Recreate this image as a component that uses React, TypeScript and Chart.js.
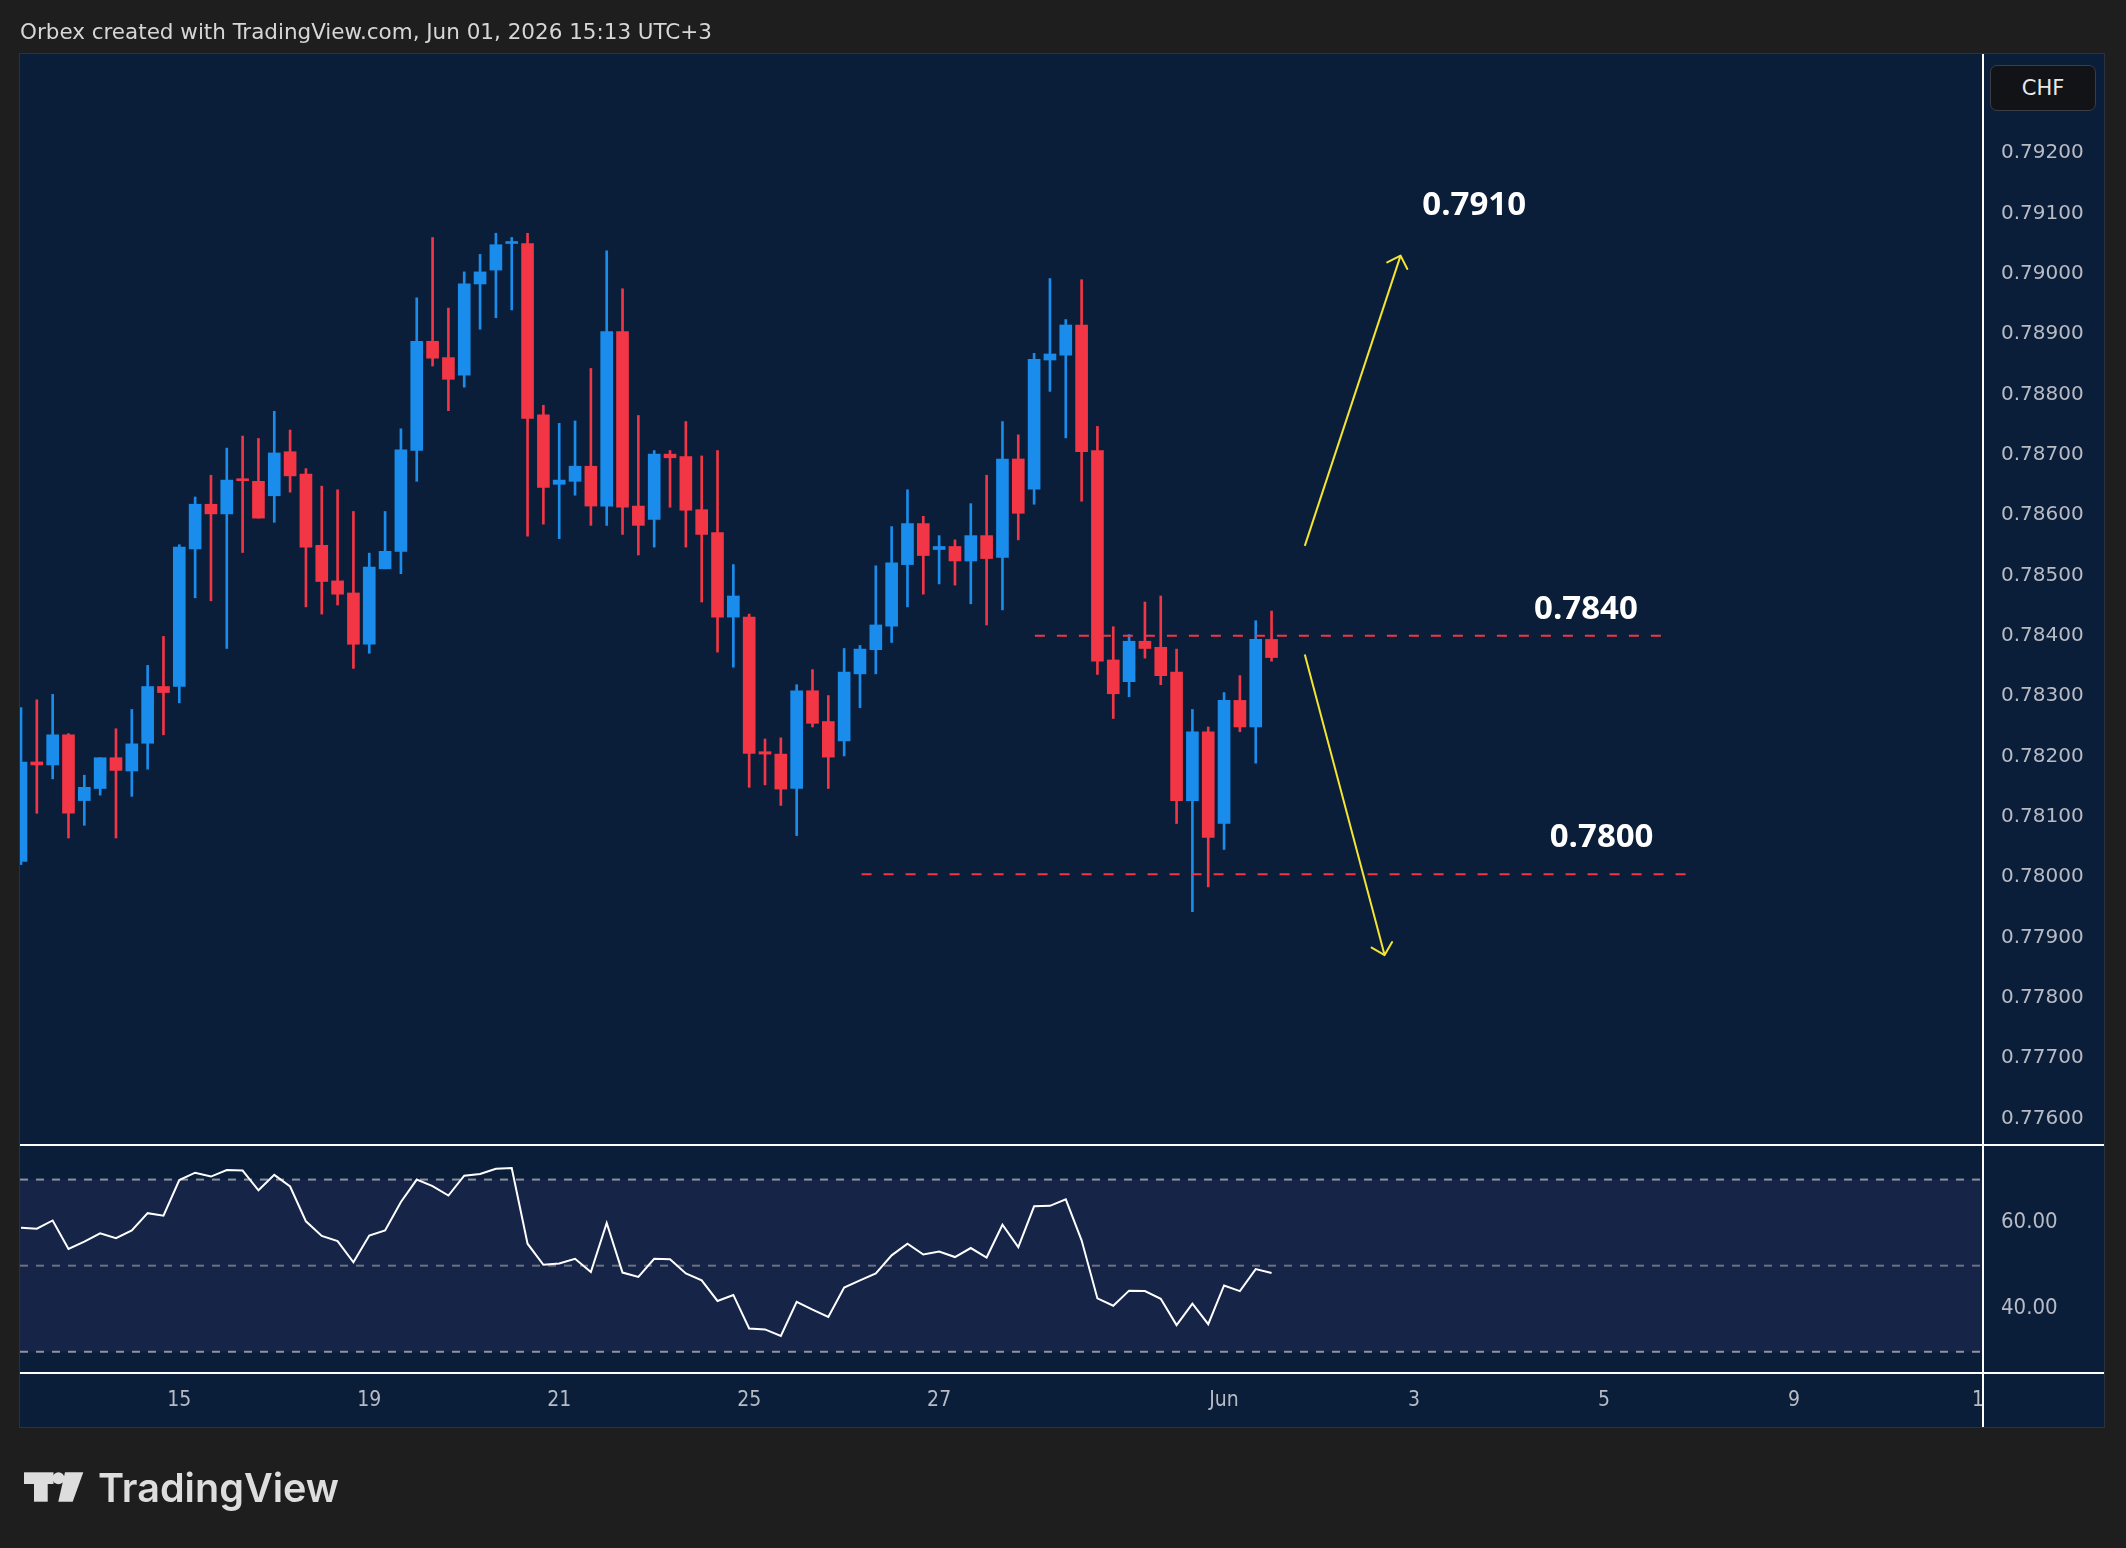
import React, { useEffect, useRef } from "react";
import { Chart, registerables } from "chart.js";

Chart.register(...registerables);

// ---------------- data ----------------
const opens = [
  0.78026, 0.78191, 0.78186, 0.78236, 0.78127, 0.78147, 0.78198, 0.78176, 0.78222, 0.78316,
  0.78316, 0.78544, 0.78618, 0.78602, 0.7866, 0.78656, 0.78632, 0.78705, 0.78668, 0.7855,
  0.78491, 0.78471, 0.78386, 0.78511, 0.7854, 0.78707, 0.78888, 0.78861, 0.78832, 0.78983,
  0.79006, 0.7905, 0.7905, 0.78766, 0.78651, 0.78656, 0.78681, 0.78615, 0.78904, 0.78615,
  0.78593, 0.78701, 0.78697, 0.78609, 0.78571, 0.78431, 0.78431, 0.78208, 0.78204, 0.78147,
  0.78309, 0.78258, 0.78226, 0.78337, 0.78377, 0.78416, 0.78518, 0.78586, 0.78543, 0.78548,
  0.78524, 0.78566, 0.7853, 0.78693, 0.78643, 0.78857, 0.78865, 0.78915, 0.78707, 0.7836,
  0.78324, 0.78391, 0.78381, 0.7834, 0.78127, 0.78241, 0.78089, 0.78293, 0.78249, 0.78394,
];
const highs = [
  0.78281, 0.78294, 0.78303, 0.78238, 0.78169, 0.78198, 0.78246, 0.78278, 0.78351, 0.78399,
  0.78551, 0.7863, 0.78666, 0.78711, 0.78731, 0.78727, 0.78772, 0.78741, 0.78677, 0.78648,
  0.78642, 0.78606, 0.78537, 0.78606, 0.78743, 0.7896, 0.7906, 0.78943, 0.79003, 0.79032,
  0.79067, 0.7906, 0.79067, 0.78782, 0.78752, 0.78756, 0.78843, 0.79038, 0.78975, 0.78765,
  0.78707, 0.78707, 0.78755, 0.78698, 0.78707, 0.78518, 0.78436, 0.78229, 0.78231, 0.78319,
  0.78344, 0.78301, 0.78379, 0.78384, 0.78516, 0.78581, 0.78642, 0.78598, 0.78566, 0.78559,
  0.78619, 0.78666, 0.78755, 0.78733, 0.78868, 0.78992, 0.78924, 0.7899, 0.78747, 0.78415,
  0.78402, 0.78456, 0.78466, 0.78378, 0.78278, 0.78249, 0.78306, 0.78334, 0.78425, 0.78441,
];
const lows = [
  0.78021, 0.78106, 0.78163, 0.78065, 0.78086, 0.78136, 0.78065, 0.78134, 0.78179, 0.78236,
  0.78289, 0.78463, 0.78458, 0.78379, 0.78538, 0.78595, 0.78588, 0.78638, 0.78448, 0.78436,
  0.78451, 0.78346, 0.78371, 0.78511, 0.78503, 0.78656, 0.78847, 0.78773, 0.78812, 0.78908,
  0.78927, 0.7894, 0.78565, 0.78585, 0.78561, 0.78633, 0.78583, 0.78583, 0.78568, 0.78534,
  0.78547, 0.78613, 0.78547, 0.78456, 0.78373, 0.78348, 0.78149, 0.78153, 0.78119, 0.78069,
  0.78249, 0.78147, 0.78201, 0.78281, 0.78337, 0.78389, 0.78448, 0.78469, 0.78486, 0.78484,
  0.78453, 0.78418, 0.78443, 0.78559, 0.78618, 0.78805, 0.78728, 0.78623, 0.78336, 0.78263,
  0.78299, 0.78363, 0.78319, 0.78089, 0.77943, 0.77984, 0.78046, 0.78241, 0.78189, 0.78358,
];
const closes = [
  0.78191, 0.78186, 0.78236, 0.78106, 0.78149, 0.78198, 0.78177, 0.78221, 0.78316, 0.78306,
  0.78547, 0.78618, 0.78602, 0.78658, 0.78657, 0.78595, 0.78703, 0.78665, 0.78547, 0.7849,
  0.78469, 0.78386, 0.78514, 0.7854, 0.78708, 0.78888, 0.7886, 0.78825, 0.78983, 0.79003,
  0.79048, 0.79052, 0.7876, 0.78646, 0.78658, 0.78681, 0.78615, 0.78904, 0.78613, 0.78583,
  0.78701, 0.78695, 0.78608, 0.78568, 0.78431, 0.78466, 0.78205, 0.78204, 0.78146, 0.78309,
  0.78255, 0.78199, 0.7834, 0.78378, 0.78418, 0.78521, 0.78586, 0.78533, 0.78548, 0.78524,
  0.78566, 0.78528, 0.78693, 0.78603, 0.78858, 0.78867, 0.78915, 0.78705, 0.78358, 0.78304,
  0.78391, 0.78379, 0.78334, 0.78127, 0.78241, 0.78066, 0.78293, 0.78249, 0.78394, 0.78364,
];
const rsiValues = [
  58.8, 58.6, 60.5, 53.9, 55.6, 57.5, 56.4, 58.2, 62.2, 61.6,
  69.9, 71.6, 70.7, 72.2, 72.1, 67.5, 71.1, 68.4, 60.3, 56.9,
  55.7, 50.8, 57.0, 58.2, 64.8, 70.0, 68.5, 66.3, 70.9, 71.3,
  72.5, 72.7, 55.1, 50.2, 50.5, 51.6, 48.5, 59.9, 48.4, 47.4,
  51.6, 51.5, 48.2, 46.6, 41.8, 43.2, 35.4, 35.2, 33.7, 41.6,
  39.8, 38.1, 44.9, 46.6, 48.2, 52.4, 55.1, 52.6, 53.3, 52.0,
  54.1, 51.9, 59.5, 54.3, 63.8, 63.9, 65.4, 55.9, 42.4, 40.7,
  44.2, 44.1, 42.3, 36.2, 41.2, 36.4, 45.4, 44.1, 49.2, 48.3,
];
const dayTickIndex = [10, 22, 34, 46, 58, 76, 88, 100, 112, 124];
const dayTickLabels = ["15", "19", "21", "25", "27", "Jun", "3", "5", "9", "11"];
const priceTicks = [
  0.776, 0.777, 0.778, 0.779, 0.78, 0.781, 0.782, 0.783, 0.784, 0.785, 0.786, 0.787, 0.788,
  0.789, 0.79, 0.791, 0.792,
];
const rsiTicks = [40, 60];
const rsiBandLevels = [70, 50, 30];

// annotations (data space: candle index, price)
const levelPrices = [0.784, 0.78005];
const levelFrom = [64.05, 53.1];
const levelTo = [103.8, 105.3];
const arrowStartX = [81.1, 81.1];
const arrowStartY = [0.78549, 0.78369];
const arrowEndX = [87.15, 86.14];
const arrowEndY = [0.7903, 0.77871];
const noteText = ["0.7910", "0.7840", "0.7800"];
const noteX = [91.8, 98.86, 99.85];
const noteY = [0.791133, 0.784438, 0.780651];

// ---------------- view ----------------
const X_MIN = -0.063;
const X_MAX = 123.88;
const PRICE_MIN = 0.77558;
const PRICE_MAX = 0.79364;
const RSI_MIN = 25.3;
const RSI_MAX = 77.8;

const NAVY = "#0a1e3a";
const BAND = "#162448";
const BLUE = "#1a8ceb";
const RED = "#f23645";
const YELLOW = "#f5e431";
const AXIS_TEXT = "#b8bbc4";
const COND = '"DejaVu Sans Condensed", "Liberation Sans Narrow", "DejaVu Sans", sans-serif';

const PANEL_L = 20;
const PANEL_T = 54;
const PANEL_W = 2084;
const PRICE_H = 1090;
const RSI_T = 1146;
const RSI_H = 281;
const AXIS_W = 122;

function PriceChart() {
  const ref = useRef<HTMLCanvasElement | null>(null);
  useEffect(() => {
    const canvas = ref.current;
    if (!canvas) return;
    const colors = closes.map((c, i) => (c >= opens[i] ? BLUE : RED));
    const annot = {
      id: "annot",
      afterDatasetsDraw(chart: any) {
        const xs = chart.scales.x;
        const ys = chart.scales.y;
        const ctx = chart.ctx as CanvasRenderingContext2D;
        ctx.save();
        ctx.strokeStyle = YELLOW;
        ctx.lineWidth = 2;
        ctx.lineCap = "round";
        ctx.lineJoin = "round";
        for (let k = 0; k < arrowStartX.length; k++) {
          const x0 = xs.getPixelForValue(arrowStartX[k]);
          const y0 = ys.getPixelForValue(arrowStartY[k]);
          const x1 = xs.getPixelForValue(arrowEndX[k]);
          const y1 = ys.getPixelForValue(arrowEndY[k]);
          const ang = Math.atan2(y1 - y0, x1 - x0);
          const len = 15;
          const sp = Math.PI / 4;
          ctx.beginPath();
          ctx.moveTo(x1 - len * Math.cos(ang - sp), y1 - len * Math.sin(ang - sp));
          ctx.lineTo(x1, y1);
          ctx.lineTo(x1 - len * Math.cos(ang + sp), y1 - len * Math.sin(ang + sp));
          ctx.stroke();
        }
        ctx.fillStyle = "#ffffff";
        ctx.font = '700 33px "Open Sans", "DejaVu Sans", sans-serif';
        ctx.textAlign = "center";
        ctx.textBaseline = "middle";
        for (let k = 0; k < noteText.length; k++) {
          ctx.fillText(noteText[k], xs.getPixelForValue(noteX[k]), ys.getPixelForValue(noteY[k]));
        }
        ctx.restore();
      },
    };
    const datasets: any[] = [
      ...levelPrices.map((p, k) => ({
        type: "line",
        data: [
          { x: levelFrom[k], y: p },
          { x: levelTo[k], y: p },
        ],
        borderColor: RED,
        borderWidth: 2,
        borderDash: [10, 12],
        pointRadius: 0,
        fill: false,
      })),
      ...arrowStartX.map((sx, k) => ({
        type: "line",
        data: [
          { x: sx, y: arrowStartY[k] },
          { x: arrowEndX[k], y: arrowEndY[k] },
        ],
        borderColor: YELLOW,
        borderWidth: 2,
        pointRadius: 0,
        fill: false,
      })),
      {
        type: "bar",
        data: opens.map((o, i) => ({ x: i, y: [o, closes[i]] })),
        backgroundColor: colors,
        borderWidth: 0,
        barThickness: 12,
        grouped: false,
        minBarLength: 2,
      },
      {
        type: "bar",
        data: lows.map((l, i) => ({ x: i, y: [l, highs[i]] })),
        backgroundColor: colors,
        borderWidth: 0,
        barThickness: 2,
        grouped: false,
      },
    ];
    const chart = new Chart(canvas, {
      type: "bar",
      data: { datasets },
      options: {
        animation: false,
        responsive: false,
        devicePixelRatio: 1,
        events: [],
        layout: { padding: 0 },
        plugins: { legend: { display: false }, tooltip: { enabled: false } },
        scales: {
          x: {
            type: "linear",
            min: X_MIN,
            max: X_MAX,
            display: false,
            offset: false,
          },
          y: {
            type: "linear",
            position: "right",
            min: PRICE_MIN,
            max: PRICE_MAX,
            grid: { display: false, drawTicks: false },
            border: { display: false },
            ticks: {
              color: AXIS_TEXT,
              font: { family: '"DejaVu Sans", sans-serif', size: 20 },
              padding: 19,
              crossAlign: "near",
              callback: (v: any) => Number(v).toFixed(5),
            },
            afterBuildTicks: (s: any) => {
              s.ticks = priceTicks.map((v) => ({ value: v }));
            },
            afterFit: (s: any) => {
              s.width = AXIS_W;
              s.paddingTop = 0;
              s.paddingBottom = 0;
            },
          },
        },
      } as any,
      plugins: [annot],
    } as any);
    return () => chart.destroy();
  }, []);
  return (
    <canvas
      ref={ref}
      width={PANEL_W}
      height={PRICE_H}
      style={{ position: "absolute", left: PANEL_L, top: PANEL_T, width: PANEL_W, height: PRICE_H }}
    />
  );
}

function RsiChart() {
  const ref = useRef<HTMLCanvasElement | null>(null);
  useEffect(() => {
    const canvas = ref.current;
    if (!canvas) return;
    const bandLine = (lvl: number, color: string, fill: any) => ({
      type: "line",
      data: [
        { x: X_MIN, y: lvl },
        { x: X_MAX, y: lvl },
      ],
      borderColor: color,
      borderWidth: 2,
      borderDash: [8, 8],
      pointRadius: 0,
      fill,
      backgroundColor: BAND,
    });
    const chart = new Chart(canvas, {
      type: "line",
      data: {
        datasets: [
          {
            data: rsiValues.map((v, i) => ({ x: i, y: v })),
            borderColor: "#ffffff",
            borderWidth: 2,
            pointRadius: 0,
            tension: 0,
            fill: false,
          },
          bandLine(rsiBandLevels[0], "#8f929b", false),
          bandLine(rsiBandLevels[1], "#6b7080", false),
          bandLine(rsiBandLevels[2], "#8f929b", 1),
        ] as any,
      },
      options: {
        animation: false,
        responsive: false,
        devicePixelRatio: 1,
        events: [],
        layout: { padding: 0 },
        plugins: { legend: { display: false }, tooltip: { enabled: false } },
        scales: {
          x: {
            type: "linear",
            position: "bottom",
            min: X_MIN,
            max: X_MAX,
            offset: false,
            grid: { display: false, drawTicks: false },
            border: { display: false },
            ticks: {
              autoSkip: false,
              maxRotation: 0,
              color: AXIS_TEXT,
              font: { family: COND, size: 21 },
              padding: 16,
              callback: (v: any) => {
                const k = dayTickIndex.indexOf(Number(v));
                return k >= 0 ? dayTickLabels[k] : "";
              },
            },
            afterBuildTicks: (s: any) => {
              s.ticks = dayTickIndex.map((v) => ({ value: v }));
            },
            afterFit: (s: any) => {
              s.height = 55;
              s.paddingLeft = 0;
              s.paddingRight = 0;
            },
          },
          y: {
            type: "linear",
            position: "right",
            min: RSI_MIN,
            max: RSI_MAX,
            grid: { display: false, drawTicks: false },
            border: { display: false },
            ticks: {
              color: AXIS_TEXT,
              font: { family: COND, size: 22 },
              padding: 19,
              crossAlign: "near",
              callback: (v: any) => Number(v).toFixed(2),
            },
            afterBuildTicks: (s: any) => {
              s.ticks = rsiTicks.map((v) => ({ value: v }));
            },
            afterFit: (s: any) => {
              s.width = AXIS_W;
              s.paddingTop = 0;
              s.paddingBottom = 0;
            },
          },
        },
      } as any,
    } as any);
    return () => chart.destroy();
  }, []);
  return (
    <canvas
      ref={ref}
      width={PANEL_W}
      height={RSI_H}
      style={{ position: "absolute", left: PANEL_L, top: RSI_T, width: PANEL_W, height: RSI_H }}
    />
  );
}

export default function App() {
  const abs = (s: React.CSSProperties): React.CSSProperties => ({ position: "absolute", ...s });
  return (
    <div style={{ position: "fixed", left: 0, top: 0, width: 2126, height: 1548, background: "#1e1e1e", overflow: "hidden" }}>
      <div style={abs({ left: PANEL_L, top: PANEL_T, width: PANEL_W, height: 1373, background: NAVY, boxShadow: "0 0 0 1px #2c3140" })} />
      <PriceChart />
      <RsiChart />
      {/* pane separators */}
      <div style={abs({ left: PANEL_L, top: 1144, width: PANEL_W, height: 2, background: "#ffffff" })} />
      <div style={abs({ left: 1984, top: 1374, width: 2104 - 1984, height: 1427 - 1374, background: NAVY })} />
      <div style={abs({ left: PANEL_L, top: 1372, width: PANEL_W, height: 2, background: "#ffffff" })} />
      <div style={abs({ left: 1982, top: PANEL_T, width: 2, height: 1373, background: "#ffffff" })} />
      {/* currency badge */}
      <div
        style={abs({
          left: 1990,
          top: 65,
          width: 106,
          height: 46,
          boxSizing: "border-box",
          background: "#111316",
          border: "1px solid #3a3d45",
          borderRadius: 7,
          color: "#e8e8e8",
          fontFamily: '"DejaVu Sans", sans-serif',
          fontSize: 21,
          lineHeight: "44px",
          textAlign: "center",
        })}
      >
        CHF
      </div>
      <svg width={2126} height={1548} style={{ position: "absolute", left: 0, top: 0, pointerEvents: "none" }}>
        <text
          x={20}
          y={39}
          fill="#d6d6d6"
          fontSize={22}
          fontFamily={COND}
          textLength={692}
          lengthAdjust="spacingAndGlyphs"
        >
          Orbex created with TradingView.com, Jun 01, 2026 15:13 UTC+3
        </text>
        <g fill="#dddddd">
          <rect x={24} y={1472.3} width={29.5} height={11.7} />
          <rect x={34} y={1484} width={13.7} height={17.7} />
          <circle cx={58.5} cy={1478.3} r={6} />
          <polygon points="65,1472.3 83.3,1472.3 72.7,1501.7 58.3,1501.7" />
          <text
            x={98}
            y={1501.7}
            fontSize={40}
            fontWeight={600}
            fontFamily='Inter, "Noto Sans", sans-serif'
            textLength={241}
            lengthAdjust="spacingAndGlyphs"
          >
            TradingView
          </text>
        </g>
      </svg>
    </div>
  );
}
